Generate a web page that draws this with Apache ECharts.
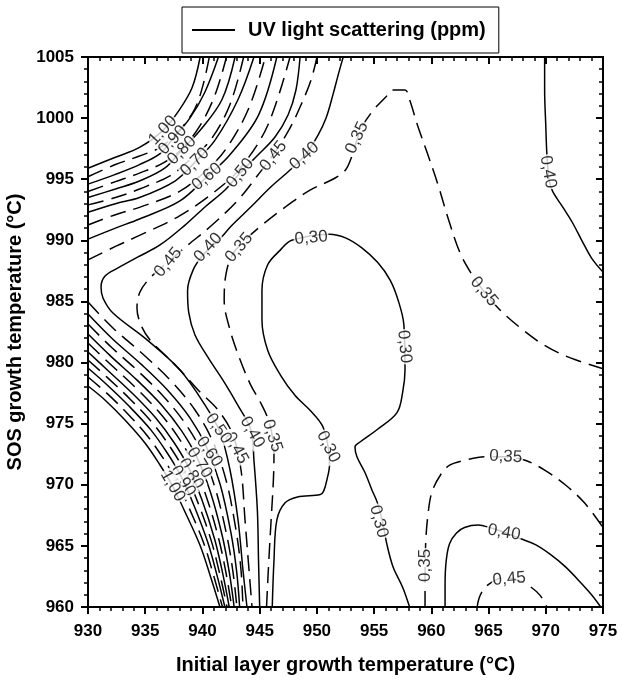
<!DOCTYPE html>
<html><head><meta charset="utf-8">
<script src="https://cdn.jsdelivr.net/npm/echarts@6/dist/echarts.min.js"></script>
<style>html,body{margin:0;padding:0;background:#fff}#c{width:622px;height:682px}</style>
</head><body><div id="c"></div>
<script>
// ---------- axes ----------
const xTickValues = [930, 935, 940, 945, 950, 955, 960, 965, 970, 975];
const yTickValues = [960, 965, 970, 975, 980, 985, 990, 995, 1000, 1005];
const xTitle = 'Initial layer growth temperature (°C)';
const yTitle = 'SOS growth temperature (°C)';
const legendName = 'UV light scattering (ppm)';

// ---------- contour lines: [x, y] points ----------
const c100_upper = [[930,995.9],[932.4,996.8],[934.5,997.6],[936.55,999.0],[938.0,1000.7],[939.1,1002.5],[939.8,1005]];
const c095_upper = [[930,995.2],[932.4,996.2],[934.5,996.9],[936.3,997.6],[937.9,998.9],[939.3,1000.7],[940.05,1002.7],[940.6,1005]];
const c090_upper = [[930,994.6],[932.4,995.4],[934.5,996.2],[936.3,997.1],[937.4,998.3],[938.9,1000.0],[940.2,1002.1],[941.4,1005]];
const c085_upper = [[930,994.0],[932.4,994.8],[934.5,995.5],[936.7,996.4],[938.3,997.6],[939.8,999.4],[941.1,1001.9],[942.1,1005]];
const c080_upper = [[930,993.5],[932.4,994.2],[934.5,994.85],[936.7,995.9],[938.2,997.4],[939.8,999.0],[941.7,1001.5],[942.85,1005]];
const c075_upper = [[930,992.9],[932.4,993.5],[934.5,994.2],[937.2,995.3],[938.9,996.6],[940.7,998.2],[942.4,1001.1],[943.6,1005]];
const c070_upper = [[930,992.3],[932.4,993.0],[934.5,993.5],[937.6,994.85],[939.35,996.4],[941.1,998.2],[943.1,1001.5],[944.5,1005]];
const c065_upper = [[930,991.25],[932.4,992.1],[934.5,992.7],[938.0,994.0],[940.2,995.6],[942.0,997.4],[944.0,1000.7],[945.5,1005]];
const c060_upper = [[930,990.1],[932.4,991.0],[934.5,991.75],[938.0,993.2],[940.4,995.2],[942.4,997.0],[944.9,1000.25],[946.5,1005]];
const c055_upper = [[930,988.4],[932.4,989.5],[934.5,990.4],[938.0,992.0],[941.1,994.0],[943.3,995.9],[945.7,999.4],[947.65,1005]];

const c055_lower = [[930,984.95],[932.18,982.83],[934.98,980.54],[937.34,978.41],[939.35,976.12],[940.84,973.66],[942.06,970.39],[942.93,966.30],[943.37,963.03],[943.54,960]];
const c060_lower = [[930,983.97],[932.08,981.99],[934.73,979.79],[937.00,977.70],[938.91,975.48],[940.34,973.13],[941.55,970.02],[942.48,966.12],[942.98,962.97],[943.25,960]];
const c065_lower = [[930,983.15],[932.00,981.29],[934.52,979.17],[936.72,977.10],[938.55,974.94],[939.92,972.70],[941.12,969.70],[942.10,965.98],[942.66,962.92],[943.01,960]];
const c070_lower = [[930,982.33],[931.91,980.59],[934.31,978.54],[936.44,976.51],[938.18,974.41],[939.51,972.26],[940.70,969.39],[941.73,965.83],[942.34,962.87],[942.77,960]];
const c075_lower = [[930,981.60],[931.84,979.96],[934.13,977.98],[936.19,975.97],[937.86,973.92],[939.13,971.86],[940.31,969.11],[941.39,965.70],[942.05,962.83],[942.56,960]];
const c080_lower = [[930,980.86],[931.76,979.33],[933.94,977.42],[935.94,975.44],[937.53,973.44],[938.76,971.47],[939.93,968.83],[941.06,965.57],[941.76,962.79],[942.34,960]];
const c085_lower = [[930,980.21],[931.70,978.77],[933.77,976.92],[935.71,974.97],[937.24,973.01],[938.42,971.12],[939.59,968.58],[940.76,965.45],[941.50,962.75],[942.15,960]];
const c090_lower = [[930,979.55],[931.63,978.20],[933.60,976.42],[935.49,974.49],[936.94,972.58],[938.09,970.77],[939.25,968.33],[940.45,965.33],[941.24,962.71],[941.96,960]];
const c095_lower = [[930,978.82],[931.55,977.57],[933.42,975.86],[935.23,973.95],[936.62,972.10],[937.71,970.37],[938.86,968.05],[940.12,965.20],[940.95,962.66],[941.75,960]];
const c100_lower = [[930,978.08],[931.48,976.94],[933.23,975.30],[934.98,973.42],[936.29,971.62],[937.34,969.98],[938.48,967.77],[939.78,965.07],[940.66,962.62],[941.53,960]];

const c050 = [[948.53,1005],[948.17,1002.30],[947.48,1000.25],[946.34,998.45],[944.85,996.98],[943.28,995.51],[941.97,994.12],[940.22,992.73],[938.48,991.25],[936.29,989.62],[934.37,988.64],[932.62,987.74],[931.49,987.08],[931.14,986.18],[931.31,985.28],[932.18,984.05],[935.16,981.85],[938.04,979.39],[940.22,976.53],[941.53,974.32],[942.41,971.21],[943.11,967.12],[943.54,963.03],[943.89,960]];
const c045 = [[950.01,1005],[949.49,1003.12],[948.61,1001.07],[947.56,999.03],[946.17,996.98],[944.85,995.35],[943.11,993.30],[940.84,991.25],[938.74,989.62],[936.99,988.23],[935.42,986.92],[934.54,985.77],[934.28,984.46],[934.63,983.07],[935.42,981.85],[936.73,980.62],[938.21,979.23],[939.79,977.59],[941.36,976.12],[942.67,974.07],[943.37,971.21],[943.72,967.12],[944.07,963.03],[944.33,960]];
const c040_left = [[952.3,1005],[951.85,1003.5],[951.4,1001.9],[950.8,1000.0],[950.1,998.6],[949.0,997.0],[947.65,995.75],[945.9,994.3],[944.2,992.7],[942.6,991.25],[941.4,990.0],[940.05,988.8],[939.2,987.6],[938.7,985.9],[938.8,984.1],[939.35,982.25],[940.5,980.4],[941.9,978.4],[943.1,976.5],[944.24,974.48],[944.5,972.0],[944.8,967.9],[944.9,963.8],[945.0,960]];
const c035_main = [[945.6,960],[945.8,963.8],[946.0,967.1],[946.2,970.4],[946.25,972.4],[945.9,974.9],[945.2,976.5],[944.2,978.2],[943.3,980.2],[942.4,982.7],[941.9,985.1],[942.05,987.2],[942.6,988.8],[943.7,990.0],[945.2,991.25],[947.2,992.7],[949.4,994.1],[951.6,995.1],[952.5,995.75],[953.1,997.0],[953.8,999.0],[954.8,1000.5],[956.0,1001.7],[956.65,1002.3],[957.7,1002.3],[958.1,1001.5],[958.8,999.4],[959.7,997.0],[960.6,994.5],[961.5,991.7],[962.5,989.0],[963.55,987.2],[964.7,985.7],[966.0,984.3],[967.7,982.9],[969.9,981.4],[972.1,980.4],[975.0,979.5]];
const c030 = [[946.1,960],[946.25,963.8],[946.5,967.1],[947.2,968.5],[948.3,969.0],[950.3,969.2],[950.6,969.5],[950.9,970.5],[951.1,971.6],[951.0,973.0],[950.5,974.8],[949.4,976.1],[948.1,977.3],[946.8,979.0],[945.7,981.0],[945.2,983.5],[945.2,985.9],[945.7,988.0],[946.8,989.2],[947.8,990.0],[951.1,990.5],[952.5,990.2],[953.9,989.4],[955.3,988.2],[956.4,986.75],[957.1,985.1],[957.6,983.1],[957.7,979.4],[957.5,977.6],[957.0,975.9],[955.25,974.5],[953.77,973.5],[953.33,973.1],[953.5,972.3],[954.2,971.0],[954.8,969.6],[955.3,968.5],[955.8,966.7],[956.1,965.2],[956.65,963.3],[957.5,961.6],[958.1,960]];
const c035_lowright = [[959.45,960],[959.45,961.8],[959.5,965.1],[959.7,967.5],[960.05,969.4],[960.8,970.8],[961.6,971.6],[962.9,972.0],[964.7,972.3],[966.4,972.3],[968.2,972.0],[969.9,971.2],[971.7,970.0],[973.4,968.5],[975.0,966.5]];
const c040_lowright = [[961.2,960],[961.2,961.8],[961.3,963.8],[961.6,965.2],[962.2,966.05],[962.9,966.5],[964.1,966.7],[965.1,966.5],[966.4,966.1],[967.75,965.6],[969.1,965.1],[970.4,964.3],[971.7,963.3],[973.0,962.05],[974.0,961.0],[974.8,960]];
const c045_lowright = [[964.0,960],[964.2,960.8],[964.7,961.6],[965.6,962.2],[966.4,962.4],[967.6,962.2],[968.6,961.7],[969.5,960.95],[970.1,960]];
const c040_upright = [[969.9,1005],[969.9,1002.3],[970.0,999.4],[970.1,997.0],[970.3,994.9],[970.6,994.0],[971.5,992.7],[972.3,991.5],[973.2,989.9],[974.0,988.55],[975.0,987.4]];

// contour level of every line
const contourLines = [
  [0.30, c030], [0.35, c035_main], [0.35, c035_lowright],
  [0.40, c040_left], [0.40, c040_lowright], [0.40, c040_upright],
  [0.45, c045], [0.45, c045_lowright], [0.50, c050],
  [0.55, c055_upper], [0.60, c060_upper], [0.65, c065_upper], [0.70, c070_upper], [0.75, c075_upper],
  [0.80, c080_upper], [0.85, c085_upper], [0.90, c090_upper], [0.95, c095_upper], [1.00, c100_upper],
  [0.55, c055_lower], [0.60, c060_lower], [0.65, c065_lower], [0.70, c070_lower], [0.75, c075_lower],
  [0.80, c080_lower], [0.85, c085_lower], [0.90, c090_lower], [0.95, c095_lower], [1.00, c100_lower]
];

// ---------- contour labels: [x, y, text] ----------
const contourLabels = [
  [936.55,999.0,'1,00'],[937.4,998.2,'0,90'],[938.2,997.35,'0,80'],[939.35,996.4,'0,70'],[940.4,995.2,'0,60'],
  [943.3,995.5,'0,50'],[946.2,996.9,'0,45'],[948.9,996.9,'0,40'],[953.5,998.4,'0,35'],
  [937.0,988.2,'0,45'],[940.5,989.4,'0,40'],[943.2,989.4,'0,35'],[949.5,990.2,'0,30'],
  [957.65,981.3,'0,30'],[951.0,973.1,'0,30'],[955.4,967.0,'0,30'],[959.5,963.4,'0,35'],
  [946.1,974.0,'0,35'],[944.35,974.3,'0,40'],[942.95,973.0,'0,45'],[941.4,974.6,'0,50'],
  [940.6,972.7,'0,60'],[939.75,971.8,'0,70'],[939.0,970.9,'0,80'],[938.3,970.3,'0,90'],[937.4,969.9,'1,00'],
  [966.5,972.3,'0,35'],[966.35,966.1,'0,40'],[966.8,962.3,'0,45'],[964.6,985.8,'0,35'],[970.2,995.6,'0,40']
];
const labelAngles = [47,47,45,45,40, 50,52,42,65, 50,48,50,5, -85,-64,-75,90, -72,-60,-62,-55, -55,-58,-58,-58,-60, -3,-10,5,-50,-80];

const FONT = 'Liberation Sans, Arial, sans-serif';
const chart = echarts.init(document.getElementById('c'), null, {renderer: 'canvas'});

function axisBase(vals) {
  return {type: 'value', min: vals[0], max: vals[vals.length - 1], interval: vals[1] - vals[0],
    splitLine: {show: false},
    axisLine: {show: true, onZero: false, lineStyle: {color: '#000', width: 2}},
    axisTick: {show: true, length: 7, lineStyle: {color: '#000', width: 2}},
    minorTick: {show: true, splitNumber: 5, length: 4, lineStyle: {color: '#000', width: 1.5}}};
}
const tickFmt = function (v) { return String(v); };
const xBottom = Object.assign(axisBase(xTickValues), {position: 'bottom',
  axisLabel: {color: '#000', fontFamily: FONT, fontWeight: 'bold', fontSize: 17, margin: 16, formatter: tickFmt},
  name: xTitle, nameLocation: 'middle', nameGap: 48,
  nameTextStyle: {color: '#000', fontFamily: FONT, fontWeight: 'bold', fontSize: 20}});
const xTop = Object.assign(axisBase(xTickValues), {position: 'top', axisLabel: {show: false}});
xTop.axisTick.inside = true;
const yLeft = Object.assign(axisBase(yTickValues), {position: 'left',
  axisLabel: {color: '#000', fontFamily: FONT, fontWeight: 'bold', fontSize: 17, margin: 14, formatter: tickFmt},
  name: yTitle, nameLocation: 'middle', nameGap: 58, nameRotate: 90,
  nameTextStyle: {color: '#000', fontFamily: FONT, fontWeight: 'bold', fontSize: 20}});
const yRight = Object.assign(axisBase(yTickValues), {position: 'right', axisLabel: {show: false}});
yRight.axisTick.inside = true;

const series = contourLines.map(function (c, i) {
  const dashed = Math.round(c[0] * 100) % 10 === 5;
  return {
    type: 'line', name: i === 0 ? legendName : 'level ' + c[0] + ' #' + i,
    data: c[1], symbol: 'none', showSymbol: false, smooth: 0.35, clip: true, silent: true,
    itemStyle: {color: '#000'},
    lineStyle: {color: '#000', width: 1.5, type: dashed ? [16, 8] : 'solid'},
    z: 2
  };
});
series.push({
  type: 'scatter', name: 'labels', silent: true, z: 5, symbolSize: 1,
  itemStyle: {color: 'rgba(0,0,0,0)'},
  data: contourLabels.map(function (l, i) {
    return {value: l, label: {rotate: labelAngles[i]}};
  }),
  label: {show: true, position: 'inside', formatter: function (p) { return p.value[2]; },
    color: '#000', fontFamily: FONT, fontSize: 17, backgroundColor: '#fff', padding: [0, 1]}
});

chart.setOption({
  animation: false,
  backgroundColor: '#fff',
  grid: {left: 88, right: 19, top: 57, bottom: 75, containLabel: false, outerBoundsMode: 'none'},
  legend: {data: [{name: legendName, icon: 'rect'}], left: 182, top: 7, itemWidth: 43, itemHeight: 2,
    itemStyle: {color: '#000', borderWidth: 0},
    borderColor: '#000', borderWidth: 1, backgroundColor: '#fff', padding: [13, 13, 13, 10],
    textStyle: {color: '#000', fontFamily: FONT, fontWeight: 'bold', fontSize: 20, padding: [0, 0, 0, 8]}},
  xAxis: [xBottom, xTop],
  yAxis: [yLeft, yRight],
  series: series
});
</script></body></html>
